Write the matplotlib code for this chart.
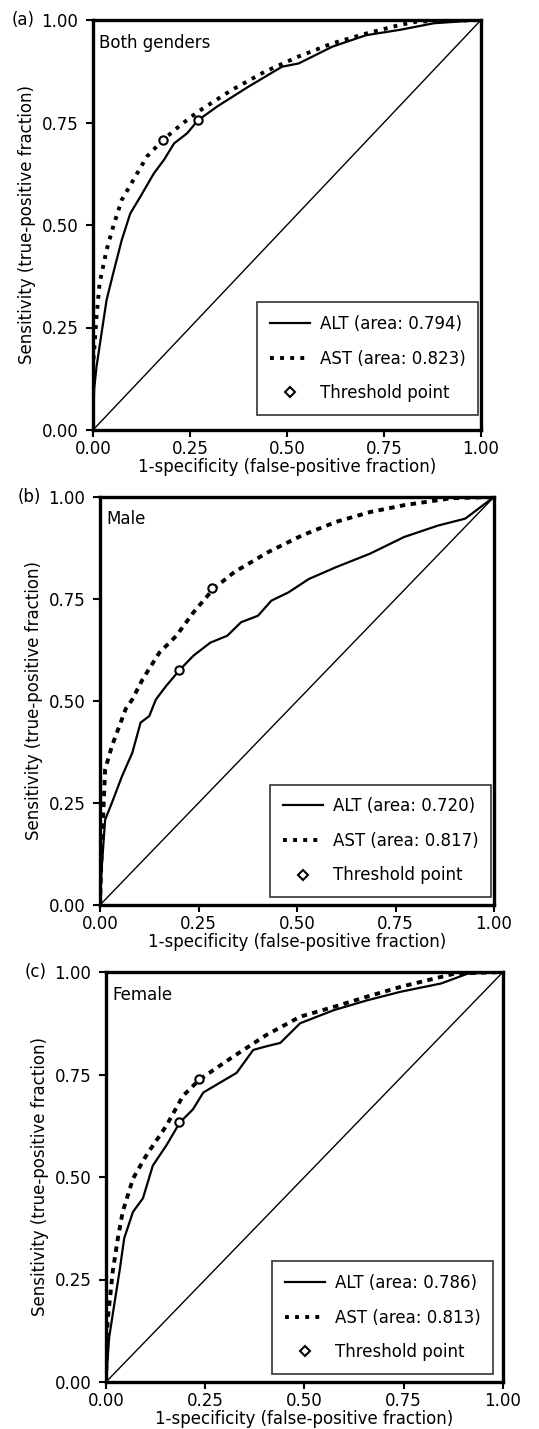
import matplotlib
matplotlib.use("Agg")
import matplotlib.pyplot as plt
from matplotlib.lines import Line2D

plt.rcParams['font.family'] = ['DejaVu Sans']

# ---------------- data ----------------
panel_tags = ["(a)", "(b)", "(c)"]
panel_titles = ["Both genders", "Male", "Female"]
alt_areas = ["0.794", "0.720", "0.786"]
ast_areas = ["0.823", "0.817", "0.813"]

ticks = [0.0, 0.25, 0.5, 0.75, 1.0]
tick_labels = ["0.00", "0.25", "0.50", "0.75", "1.00"]

# (a) both genders
a_alt_x = [0.0, 0.003, 0.009, 0.022, 0.035, 0.052, 0.074, 0.096, 0.122, 0.157, 0.183, 0.209,
           0.243, 0.27, 0.32, 0.40, 0.487, 0.53, 0.617, 0.704, 0.791, 0.878, 1.0]
a_alt_y = [0.0, 0.10, 0.154, 0.236, 0.317, 0.382, 0.463, 0.528, 0.569, 0.626, 0.659, 0.699,
           0.724, 0.755, 0.789, 0.837, 0.886, 0.894, 0.935, 0.963, 0.976, 0.992, 1.0]
a_ast_x = [0.0, 0.0, 0.009, 0.017, 0.035, 0.052, 0.074, 0.104, 0.139, 0.18, 0.226, 0.27,
           0.357, 0.443, 0.53, 0.617, 0.704, 0.791, 0.835, 1.0]
a_ast_y = [0.0, 0.154, 0.276, 0.358, 0.439, 0.496, 0.561, 0.610, 0.667, 0.707, 0.744, 0.776,
           0.829, 0.874, 0.911, 0.943, 0.967, 0.988, 0.996, 1.0]
a_thr_x = [0.27, 0.18]
a_thr_y = [0.755, 0.707]

# (b) male
b_alt_x = [0.0, 0.004, 0.013, 0.030, 0.056, 0.082, 0.103, 0.125, 0.142, 0.168, 0.203, 0.237,
           0.28, 0.323, 0.358, 0.401, 0.435, 0.478, 0.53, 0.599, 0.685, 0.772, 0.858, 0.927, 1.0]
b_alt_y = [0.0, 0.086, 0.209, 0.25, 0.316, 0.373, 0.447, 0.463, 0.504, 0.537, 0.577, 0.611,
           0.643, 0.66, 0.693, 0.709, 0.746, 0.766, 0.799, 0.828, 0.861, 0.902, 0.93, 0.947, 1.0]
b_ast_x = [0.0, 0.004, 0.013, 0.030, 0.065, 0.082, 0.108, 0.151, 0.194, 0.237, 0.289, 0.341,
           0.427, 0.513, 0.599, 0.685, 0.772, 0.892, 1.0]
b_ast_y = [0.0, 0.127, 0.332, 0.389, 0.48, 0.504, 0.553, 0.619, 0.66, 0.717, 0.776, 0.816,
           0.865, 0.906, 0.939, 0.963, 0.98, 0.997, 1.0]
b_thr_x = [0.20, 0.285]
b_thr_y = [0.576, 0.776]

# (c) female
c_alt_x = [0.0, 0.008, 0.021, 0.034, 0.046, 0.068, 0.093, 0.118, 0.152, 0.186, 0.219, 0.245,
           0.287, 0.329, 0.371, 0.405, 0.439, 0.489, 0.574, 0.658, 0.743, 0.844, 0.911, 1.0]
c_alt_y = [0.0, 0.109, 0.19, 0.27, 0.351, 0.415, 0.448, 0.528, 0.577, 0.633, 0.665, 0.706,
           0.73, 0.754, 0.81, 0.819, 0.827, 0.875, 0.907, 0.931, 0.952, 0.972, 0.996, 1.0]
c_ast_x = [0.0, 0.004, 0.017, 0.030, 0.042, 0.068, 0.101, 0.152, 0.194, 0.236, 0.321, 0.405,
           0.489, 0.574, 0.658, 0.743, 0.827, 0.878, 1.0]
c_ast_y = [0.0, 0.149, 0.27, 0.351, 0.415, 0.496, 0.552, 0.625, 0.698, 0.738, 0.794, 0.847,
           0.891, 0.915, 0.94, 0.964, 0.984, 0.996, 1.0]
c_thr_x = [0.185, 0.235]
c_thr_y = [0.635, 0.738]

panels = [
    (a_alt_x, a_alt_y, a_ast_x, a_ast_y, a_thr_x, a_thr_y),
    (b_alt_x, b_alt_y, b_ast_x, b_ast_y, b_thr_x, b_thr_y),
    (c_alt_x, c_alt_y, c_ast_x, c_ast_y, c_thr_x, c_thr_y),
]

W, H = 539, 1429
fig = plt.figure(figsize=(W / 100, H / 100), dpi=100)

# axes boxes in pixels: left, right, top, bottom
boxes = [(93, 481, 20, 430), (100, 494, 497, 905), (106, 503, 972, 1382)]
legend_anchor = [(0.992, 0.037), (0.992, 0.02), (0.975, 0.02)]
ast_styles = [(0, (1, 1.6)), (0, (1.4, 1.4)), (0, (1.4, 1.4))]

fs = 12
for i, (box, data) in enumerate(zip(boxes, panels)):
    l, r, t, b = box
    ax = fig.add_axes([l / W, 1 - b / H, (r - l) / W, (b - t) / H])
    alt_x, alt_y, ast_x, ast_y, thr_x, thr_y = data
    ax.plot([0, 1], [0, 1], color="black", lw=1.0)
    ax.plot(alt_x, alt_y, color="black", lw=1.6)
    ax.plot(ast_x, ast_y, color="black", lw=2.8, linestyle=ast_styles[i])
    ax.plot(thr_x, thr_y, linestyle="none", marker="o", ms=6, mfc="white", mec="black", mew=1.5)
    ax.set_xlim(0, 1)
    ax.set_ylim(0, 1)
    ax.set_xticks(ticks)
    ax.set_xticklabels(tick_labels)
    ax.set_yticks(ticks)
    ax.set_yticklabels(tick_labels)
    ax.tick_params(direction="out", length=5, width=1.5, labelsize=fs)
    ax.tick_params(axis="y", pad=5.5)
    ax.tick_params(axis="x", pad=2)
    for s in ax.spines.values():
        s.set_linewidth(2.4)
    ax.set_xlabel("1-specificity (false-positive fraction)", fontsize=fs, labelpad=0)
    ax.set_ylabel("Sensitivity (true-positive fraction)", fontsize=fs, labelpad=4)
    ax.text(0.016, 0.945, panel_titles[i], transform=ax.transAxes, fontsize=fs,
            ha="left", va="center")
    ax.text(-0.15, 1.0, panel_tags[i], transform=ax.transAxes, fontsize=fs,
            ha="right", va="center")
    handles = [
        Line2D([], [], color="black", lw=1.6),
        Line2D([], [], color="black", lw=2.8, linestyle=(0, (1, 1.6))),
        Line2D([], [], linestyle="none", marker="D", ms=5, mfc="white", mec="black", mew=1.5),
    ]
    labels = [f"ALT (area: {alt_areas[i]})", f"AST (area: {ast_areas[i]})", "Threshold point"]
    leg = ax.legend(handles, labels, loc="lower right", bbox_to_anchor=legend_anchor[i],
                    borderaxespad=0, fontsize=fs, frameon=True, fancybox=False,
                    edgecolor="black", handlelength=2.4, labelspacing=1.0,
                    borderpad=0.75, handletextpad=0.6)
    leg.get_frame().set_linewidth(1.2)

fig.savefig("out.png", dpi=100)
